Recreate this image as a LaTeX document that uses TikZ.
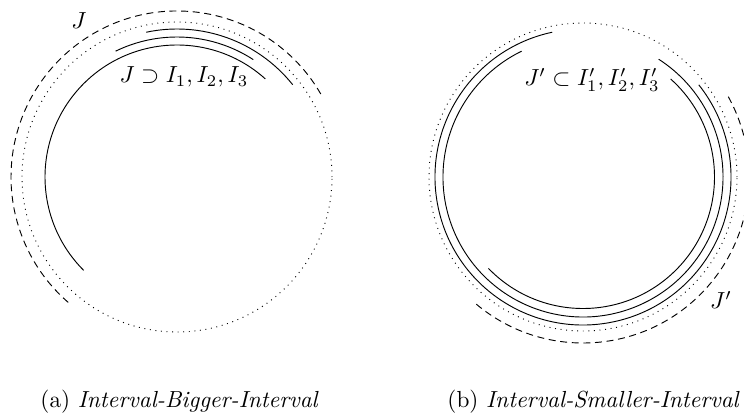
\documentclass[tikz,border=0pt]{standalone}
\usepackage{amsmath,amssymb}
\usepackage{tikz}
\usetikzlibrary{positioning,calc}

\begin{document}
\begin{tikzpicture}[
  x=0.43pt,y=0.43pt,
  ivl/.style={thin},
  outer/.style={thin,dash pattern=on 3pt off 2pt},
  base/.style={thin,dotted},
  caption/.style={anchor=base west,inner sep=0pt},
  every node/.style={font=\normalsize}
]
\useasboundingbox (0,0) rectangle (744,416);
\clip (0,0) rectangle (744,416);

% Panel (a): J contains the intervals
\coordinate (ca) at (177,239);
\draw[base] (ca) circle[radius=155];
\draw[outer] ([shift={(30:166)}]ca) arc[start angle=30,end angle=230,radius=166];
\draw[ivl] ([shift={(38.6:148)}]ca) arc[start angle=38.6,end angle=102,radius=148];
\draw[ivl] ([shift={(57:140)}]ca) arc[start angle=57,end angle=116,radius=140];
\draw[ivl] ([shift={(48:132)}]ca) arc[start angle=48,end angle=225,radius=132];
\node (lJa) at (79,395) {\(J\)};
\node[anchor=base] (lIa) at (184,333) {\(J \supset I_1, I_2, I_3\)};
\node[caption] (capa) at (40,9) {(a) \textit{Interval-Bigger-Interval}};

% Panel (b): J' inside the intervals
\coordinate (cb) at (583,239);
\draw[base] (cb) circle[radius=154];
\draw[outer] ([shift={(230:166)}]cb) arc[start angle=230,end angle=390,radius=166];
\draw[ivl] ([shift={(102:148)}]cb) arc[start angle=102,end angle=398.5,radius=148];
\draw[ivl] ([shift={(116:140)}]cb) arc[start angle=116,end angle=417.3,radius=140];
\draw[ivl] ([shift={(224:131.5)}]cb) arc[start angle=224,end angle=408.2,radius=131.5];
\node (lJb) at (721,116) {\(J'\)};
\node[anchor=base] (lIb) at (592,330) {\(J' \subset I'_1, I'_2, I'_3\)};
\node[caption] (capb) at (447,9) {(b) \textit{Interval-Smaller-Interval}};
\end{tikzpicture}
\end{document}
